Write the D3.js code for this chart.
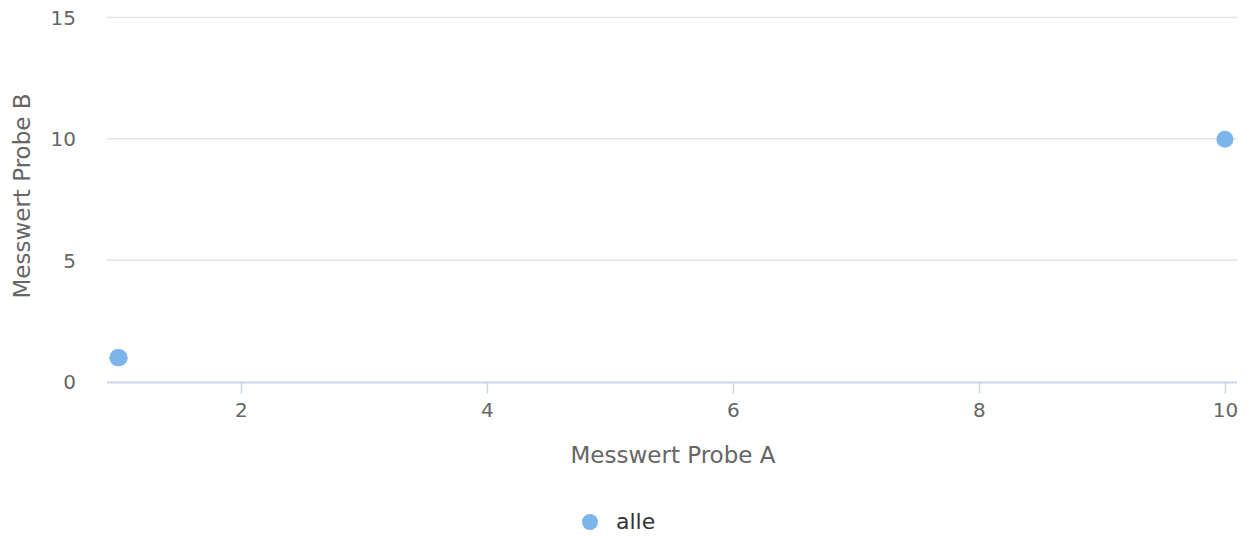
<!DOCTYPE html>
<html>
<head>
<meta charset="utf-8">
<script src="https://cdn.jsdelivr.net/npm/d3@7"></script>
<style>
  body { margin: 0; background: #fff; }
  text { font-family: "DejaVu Sans", sans-serif; }
</style>
</head>
<body>
<svg width="1249" height="536"></svg>
<script>
// data
var seriesName = "alle";
var probeA = [1, 1, 1.01, 10];
var probeB = [1, 1, 1, 10];
var xTicks = [2, 4, 6, 8, 10];
var yTicks = [0, 5, 10, 15];
var xTitle = "Messwert Probe A",
    yTitle = "Messwert Probe B";

var svg = d3.select("svg"),
    plotLeft = 107, plotRight = 1237, plotTop = 18, plotBottom = 382,
    pointColor = "#7cb5ec";

var x = d3.scaleLinear().domain([0.911, 10.098]).range([plotLeft, plotRight]);
var y = d3.scaleLinear().domain([0, 15]).range([plotBottom, plotTop]);

// grid lines
svg.append("g")
  .selectAll("line")
  .data(yTicks.filter(function(d){ return d > 0; }))
  .join("line")
  .attr("x1", plotLeft).attr("x2", plotRight)
  .attr("y1", function(d){ return y(d) - 0.5; })
  .attr("y2", function(d){ return y(d) - 0.5; })
  .attr("stroke", "#e6e6e6").attr("stroke-width", 1.5);

// y axis labels
svg.append("g")
  .selectAll("text")
  .data(yTicks)
  .join("text")
  .attr("x", 76).attr("y", function(d){ return y(d) + 7; })
  .attr("text-anchor", "end")
  .attr("font-size", "20px")
  .attr("fill", "#666")
  .text(function(d){ return d; });

// x axis
var xAxis = svg.append("g")
  .attr("transform", "translate(0," + (plotBottom + 0.5) + ")")
  .call(d3.axisBottom(x).tickValues(xTicks).tickSize(11).tickPadding(9).tickSizeOuter(0));
xAxis.select(".domain").attr("stroke", "#ccd6eb").attr("stroke-width", 2)
  .attr("d", "M" + plotLeft + ",0H" + plotRight);
xAxis.selectAll(".tick line").attr("stroke", "#ccd6eb").attr("stroke-width", 1.5);
xAxis.selectAll(".tick text").attr("fill", "#666").attr("font-size", "20px")
  .attr("font-family", null);

// axis titles
svg.append("text")
  .attr("x", (plotLeft + plotRight) / 2 + 1).attr("y", 463)
  .attr("text-anchor", "middle")
  .attr("font-size", "23px").attr("fill", "#666")
  .text(xTitle);
svg.append("text")
  .attr("transform", "translate(30,196) rotate(-90)")
  .attr("text-anchor", "middle")
  .attr("font-size", "23px").attr("fill", "#666")
  .text(yTitle);

// points
svg.append("g")
  .selectAll("circle")
  .data(d3.range(probeA.length))
  .join("circle")
  .attr("cx", function(i){ return x(probeA[i]); })
  .attr("cy", function(i){ return y(probeB[i]); })
  .attr("r", 8.5)
  .attr("fill", pointColor);

// legend
var legend = svg.append("g");
legend.append("circle").attr("cx", 590).attr("cy", 522).attr("r", 8).attr("fill", pointColor);
legend.append("text").attr("x", 616).attr("y", 529)
  .attr("font-size", "22px").attr("fill", "#333")
  .text(seriesName);
</script>
</body>
</html>
